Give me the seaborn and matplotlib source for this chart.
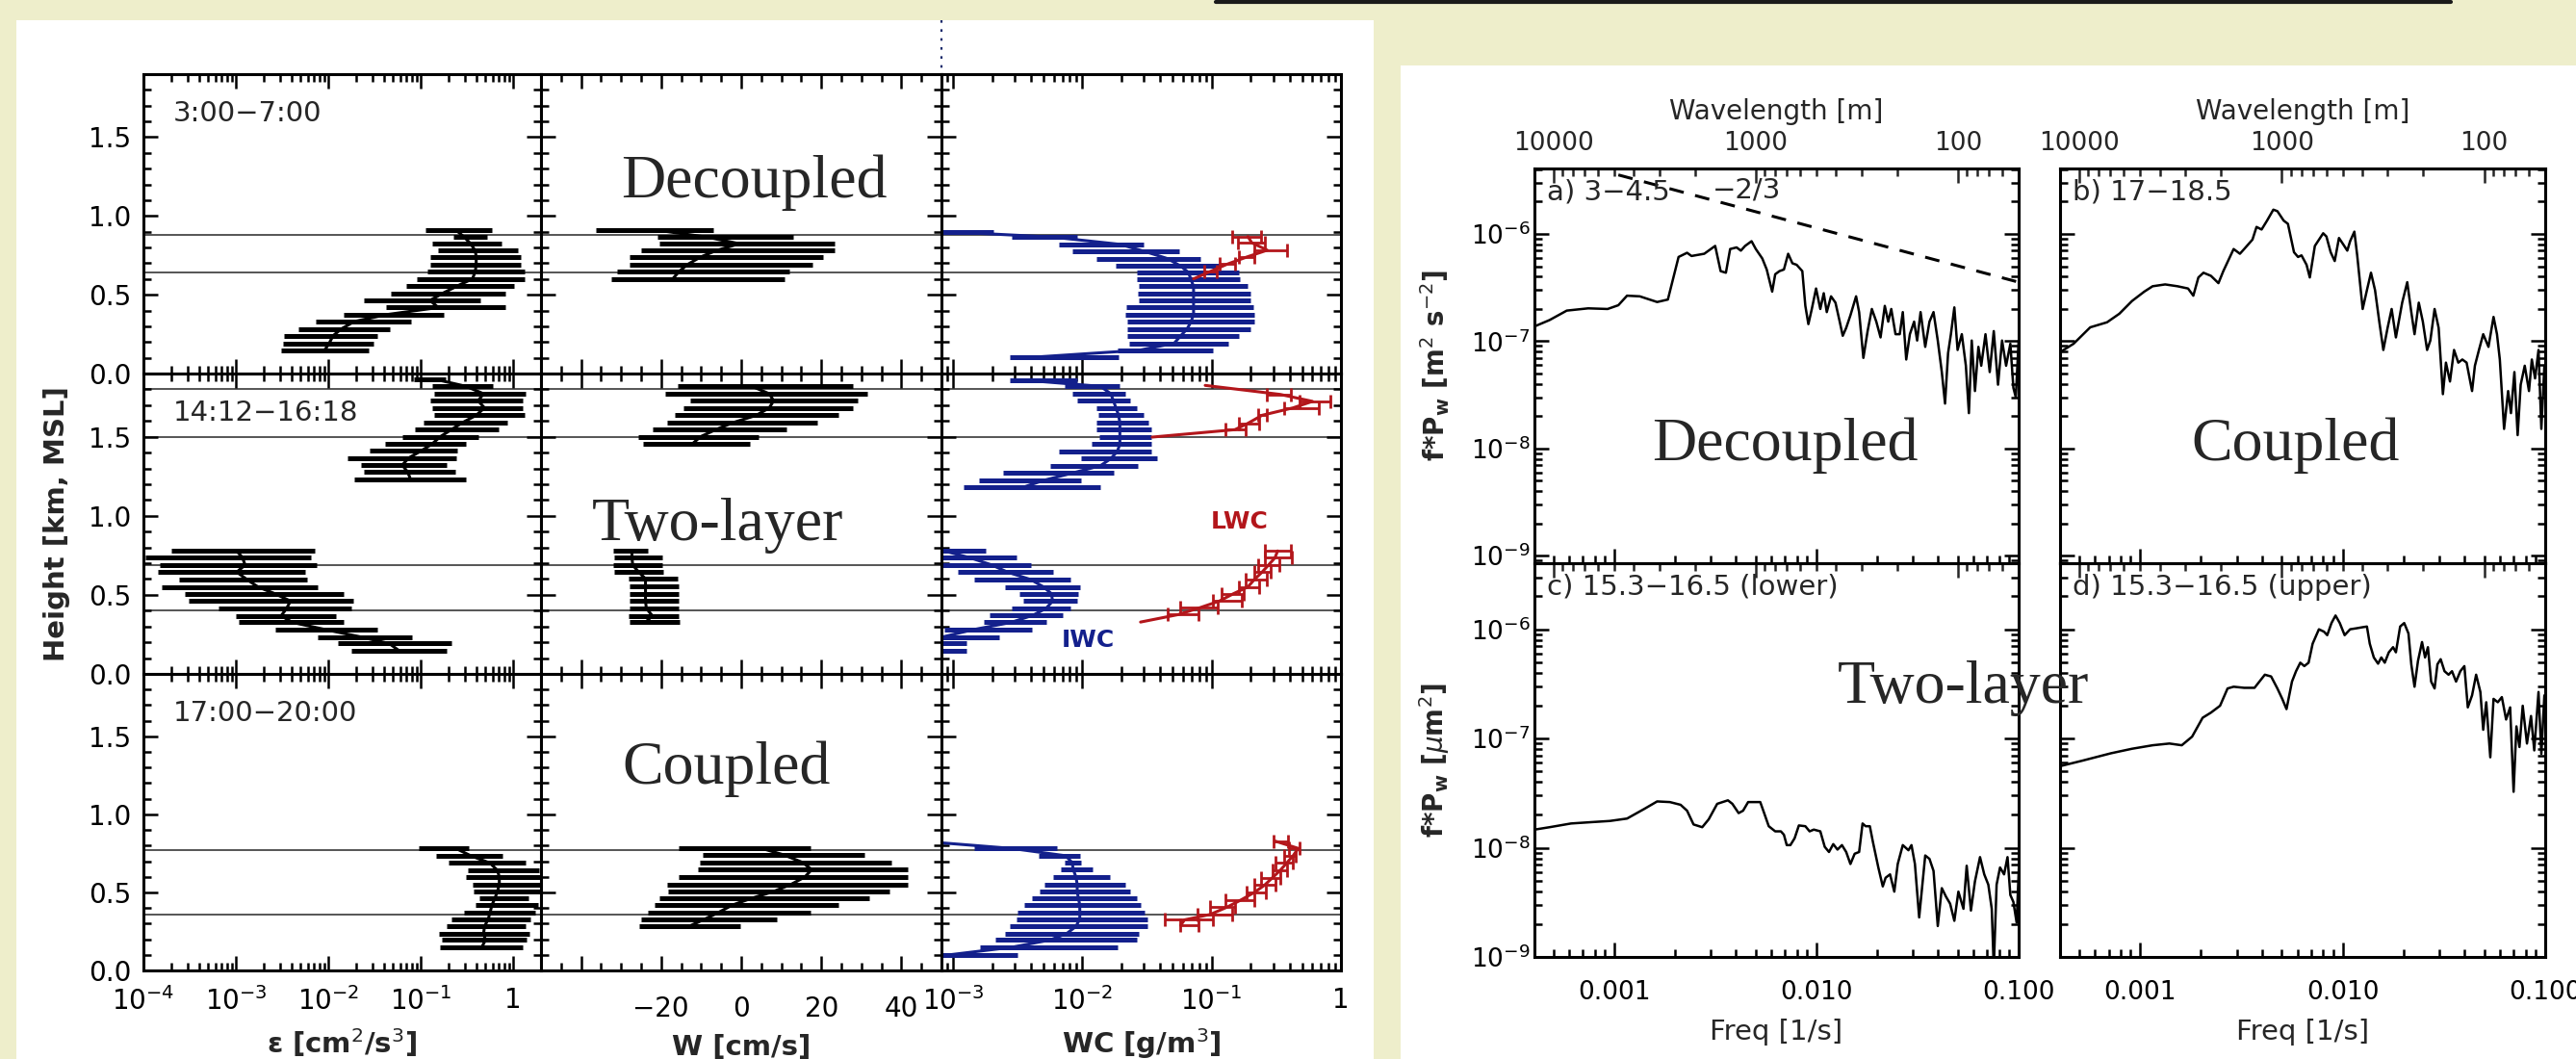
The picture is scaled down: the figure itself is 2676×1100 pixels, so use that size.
import numpy as np
import matplotlib
matplotlib.use("Agg")
import matplotlib.pyplot as plt
import seaborn as sns
from matplotlib.lines import Line2D
from matplotlib.patches import Rectangle
from matplotlib.ticker import FixedLocator, FixedFormatter, MultipleLocator, LogLocator, NullFormatter, FormatStrFormatter

# ---------------------------------------------------------------- data
# layer boundaries (km)
layers_r1 = [0.88, 0.64]
layers_r2 = [1.80, 1.50, 0.69, 0.40]
layers_r3 = [0.77, 0.36]

# dissipation rate, log10(eps) : centre, low, high
eps1_h = [0.911, 0.866, 0.824, 0.779, 0.739, 0.692, 0.648, 0.601, 0.557, 0.510, 0.464, 0.419, 0.374, 0.330, 0.283, 0.239, 0.192, 0.148]
eps1_c = [-0.62, -0.53, -0.46, -0.41, -0.40, -0.40, -0.41, -0.44, -0.60, -0.76, -0.90, -0.81, -1.37, -1.72, -1.86, -1.95, -1.99, -2.04]
eps1_lo = [-0.95, -0.65, -0.88, -0.81, -0.90, -0.90, -0.93, -1.04, -1.16, -1.32, -1.61, -1.38, -1.83, -2.14, -2.32, -2.48, -2.49, -2.51]
eps1_hi = [-0.23, -0.28, -0.13, 0.05, 0.08, 0.08, 0.12, 0.12, 0.01, -0.08, -0.36, -0.08, -0.75, -1.11, -1.33, -1.47, -1.51, -1.56]

eps2u_h = [1.866, 1.819, 1.772, 1.728, 1.683, 1.636, 1.589, 1.545, 1.500, 1.453, 1.413, 1.366, 1.321, 1.276, 1.230]
eps2u_c = [-0.86, -0.51, -0.32, -0.38, -0.31, -0.40, -0.55, -0.67, -0.79, -0.88, -0.99, -1.13, -1.20, -1.14, -1.11]
eps2u_lo = [-1.07, -0.88, -0.86, -0.90, -0.88, -0.86, -0.97, -1.06, -1.20, -1.39, -1.55, -1.79, -1.65, -1.61, -1.72]
eps2u_hi = [-0.73, -0.22, 0.13, 0.10, 0.10, 0.12, -0.06, -0.16, -0.38, -0.51, -0.60, -0.62, -0.72, -0.63, -0.51]

eps2l_h = [0.782, 0.738, 0.689, 0.644, 0.597, 0.550, 0.508, 0.461, 0.415, 0.368, 0.326, 0.279, 0.234, 0.192, 0.145]
eps2l_c = [-3.00, -2.93, -2.90, -2.99, -2.88, -2.76, -2.58, -2.41, -2.45, -2.51, -2.39, -2.02, -1.65, -1.34, -1.23]
eps2l_lo = [-3.70, -3.98, -3.82, -3.84, -3.61, -3.80, -3.55, -3.51, -3.19, -3.00, -2.97, -2.57, -2.12, -1.90, -1.75]
eps2l_hi = [-2.15, -2.19, -2.13, -2.25, -2.23, -2.11, -1.83, -1.73, -1.75, -1.92, -1.83, -1.47, -1.09, -0.67, -0.72]

eps3_h = [0.782, 0.735, 0.688, 0.641, 0.599, 0.552, 0.505, 0.460, 0.418, 0.371, 0.329, 0.282, 0.237, 0.195, 0.148]
eps3_c = [-0.62, -0.46, -0.25, -0.17, -0.15, -0.15, -0.17, -0.20, -0.23, -0.25, -0.27, -0.31, -0.32, -0.30, -0.34]
eps3_lo = [-1.02, -0.83, -0.70, -0.49, -0.51, -0.44, -0.43, -0.37, -0.41, -0.53, -0.67, -0.72, -0.80, -0.77, -0.79]
eps3_hi = [-0.48, -0.12, 0.13, 0.28, 0.32, 0.32, 0.32, 0.17, 0.27, 0.24, 0.19, 0.13, 0.18, 0.15, 0.10]

# vertical velocity W (cm/s)
w1_h = [0.911, 0.866, 0.824, 0.779, 0.739, 0.692, 0.648, 0.601]
w1_c = [-21.4, -8.6, -0.5, -6.4, -10.2, -13.4, -15.5, -17.1]
w1_lo = [-36.4, -20.9, -20.4, -24.9, -27.9, -27.9, -30.9, -32.5]
w1_hi = [-6.9, 12.9, 23.4, 23.4, 20.4, 17.7, 12.0, 10.8]

w2u_h = [1.819, 1.772, 1.728, 1.683, 1.636, 1.589, 1.545, 1.500, 1.453]
w2u_c = [2.7, 7.0, 8.1, 7.0, 3.8, -2.1, -6.4, -10.2, -12.3]
w2u_lo = [-15.8, -19.1, -12.8, -14.5, -16.6, -18.5, -22.0, -25.7, -24.6]
w2u_hi = [27.9, 31.4, 29.2, 27.9, 24.2, 19.1, 11.4, 4.3, 2.2]

w2l_h = [0.782, 0.738, 0.689, 0.644, 0.602, 0.555, 0.508, 0.461, 0.415, 0.368, 0.326]
w2l_c = [-27.3, -27.3, -27.1, -25.6, -23.9, -23.9, -23.9, -23.9, -23.7, -22.2, -23.9]
w2l_lo = [-31.9, -31.7, -31.9, -31.7, -28.2, -27.9, -27.9, -27.9, -27.9, -28.2, -27.9]
w2l_hi = [-23.3, -19.6, -19.6, -19.4, -15.9, -15.7, -15.7, -15.7, -15.7, -15.7, -15.4]

w3_h = [0.786, 0.739, 0.692, 0.646, 0.599, 0.552, 0.505, 0.460, 0.418, 0.371, 0.329, 0.282]
w3_c = [4.6, 10.8, 15.3, 17.6, 15.9, 12.5, 8.0, 2.3, -2.3, -5.7, -9.1, -13.1]
w3_lo = [-15.7, -9.5, -10.3, -10.8, -15.7, -18.5, -18.2, -20.5, -21.6, -23.3, -25.1, -25.4]
w3_hi = [17.3, 30.8, 37.4, 41.6, 41.6, 41.6, 37.0, 31.9, 24.3, 17.4, 8.8, -0.2]

# ice water content, log10(g/m3)
iwc1_h = [0.901, 0.866, 0.820, 0.773, 0.729, 0.682, 0.642, 0.597, 0.553, 0.506, 0.462, 0.419, 0.374, 0.328, 0.283, 0.239, 0.192, 0.148, 0.101]
iwc1_c = [-3.07, -2.23, -1.71, -1.51, -1.34, -1.24, -1.18, -1.16, -1.14, -1.14, -1.14, -1.14, -1.14, -1.16, -1.19, -1.24, -1.29, -1.56, -2.43]
iwc1_lo = [-3.09, -2.55, -2.18, -2.08, -1.89, -1.74, -1.58, -1.58, -1.56, -1.57, -1.56, -1.66, -1.67, -1.65, -1.65, -1.65, -1.64, -1.73, -2.56]
iwc1_hi = [-2.69, -2.04, -1.53, -1.25, -1.09, -0.94, -0.79, -0.78, -0.72, -0.70, -0.70, -0.68, -0.67, -0.67, -0.70, -0.79, -0.87, -0.99, -1.72]

iwc2u_h = [1.860, 1.819, 1.772, 1.728, 1.683, 1.636, 1.589, 1.545, 1.500, 1.453, 1.407, 1.362, 1.317, 1.270, 1.224, 1.183]
iwc2u_c = [-2.48, -1.86, -1.78, -1.76, -1.74, -1.72, -1.71, -1.71, -1.71, -1.71, -1.73, -1.78, -1.86, -2.08, -2.30, -2.45]
iwc2u_lo = [-2.56, -2.14, -2.08, -2.04, -1.89, -1.88, -1.89, -1.89, -1.87, -1.93, -2.18, -2.01, -2.25, -2.61, -2.80, -2.92]
iwc2u_hi = [-2.04, -1.71, -1.67, -1.63, -1.58, -1.53, -1.49, -1.47, -1.47, -1.47, -1.47, -1.42, -1.57, -1.76, -2.01, -1.86]

iwc2l_h = [0.778, 0.735, 0.689, 0.644, 0.597, 0.550, 0.508, 0.461, 0.415, 0.372, 0.326, 0.279, 0.234, 0.192, 0.145]
iwc2l_c = [-3.07, -2.87, -2.70, -2.58, -2.40, -2.30, -2.24, -2.23, -2.28, -2.38, -2.55, -2.85, -3.08, -3.09, -3.09]
iwc2l_lo = [-3.09, -3.09, -3.09, -2.96, -2.84, -2.60, -2.49, -2.46, -2.55, -2.72, -2.76, -3.07, -3.09, -3.09, -3.09]
iwc2l_hi = [-2.75, -2.51, -2.40, -2.23, -2.09, -2.02, -2.03, -2.04, -2.09, -2.15, -2.28, -2.39, -2.64, -2.90, -2.90]

iwc3_h = [0.817, 0.782, 0.735, 0.692, 0.646, 0.599, 0.552, 0.505, 0.460, 0.418, 0.371, 0.329, 0.282, 0.237, 0.195, 0.148, 0.101]
iwc3_c = [-3.08, -2.55, -2.13, -2.08, -2.07, -2.05, -2.04, -2.04, -2.03, -2.02, -2.02, -2.02, -2.05, -2.12, -2.25, -2.55, -3.02]
iwc3_lo = [-3.08, -2.84, -2.34, -2.14, -2.17, -2.23, -2.29, -2.33, -2.39, -2.45, -2.50, -2.51, -2.56, -2.60, -2.67, -2.79, -3.09]
iwc3_hi = [-3.08, -2.20, -2.02, -2.01, -1.92, -1.79, -1.67, -1.63, -1.58, -1.55, -1.52, -1.50, -1.50, -1.56, -1.58, -1.73, -2.50]

# liquid water content, log10(g/m3)
lwc1_h = [0.870, 0.830, 0.783, 0.739, 0.694, 0.648, 0.601]
lwc1_c = [-0.72, -0.69, -0.57, -0.73, -0.88, -1.01, -1.14]
lwc1_lo = [-0.84, -0.80, -0.67, -0.79, -0.94, -1.06, -1.14]
lwc1_hi = [-0.62, -0.59, -0.42, -0.67, -0.82, -0.96, -1.14]

lwc2u_h = [1.825, 1.768, 1.724, 1.683, 1.636, 1.585, 1.545, 1.498]
lwc2u_c = [-1.05, -0.47, -0.22, -0.37, -0.61, -0.72, -0.82, -1.46]
lwc2u_lo = [-1.05, -0.57, -0.32, -0.44, -0.64, -0.79, -0.89, -1.46]
lwc2u_hi = [-1.05, -0.39, -0.08, -0.17, -0.57, -0.63, -0.74, -1.46]

lwc2l_h = [0.778, 0.735, 0.689, 0.644, 0.597, 0.550, 0.508, 0.461, 0.419, 0.375, 0.328]
lwc2l_c = [-0.49, -0.51, -0.56, -0.61, -0.67, -0.72, -0.83, -0.94, -1.09, -1.26, -1.55]
lwc2l_lo = [-0.59, -0.59, -0.64, -0.67, -0.74, -0.79, -0.92, -0.99, -1.24, -1.34, -1.55]
lwc2l_hi = [-0.39, -0.38, -0.48, -0.54, -0.57, -0.63, -0.75, -0.77, -0.95, -1.10, -1.55]

lwc3_h = [0.829, 0.782, 0.735, 0.688, 0.641, 0.594, 0.547, 0.500, 0.453, 0.406, 0.359, 0.324, 0.289]
lwc3_c = [-0.51, -0.33, -0.37, -0.42, -0.47, -0.53, -0.59, -0.67, -0.77, -0.88, -1.01, -1.21, -1.24]
lwc3_lo = [-0.52, -0.40, -0.44, -0.51, -0.53, -0.62, -0.67, -0.73, -0.89, -1.01, -1.11, -1.36, -1.24]
lwc3_hi = [-0.41, -0.32, -0.35, -0.37, -0.42, -0.47, -0.51, -0.58, -0.67, -0.82, -0.84, -0.99, -1.10]

# spectra : log10(freq [1/s]) and log10(f*Pw)
spa_logf = [-3.394, -3.320, -3.235, -3.129, -3.033, -2.980, -2.937, -2.874, -2.788, -2.735,
            -2.682, -2.640, -2.618, -2.555, -2.501, -2.474, -2.448, -2.427, -2.395, -2.374,
            -2.353, -2.321, -2.300, -2.268, -2.246, -2.219, -2.204, -2.183, -2.161, -2.140,
            -2.119, -2.098, -2.070, -2.055, -2.040, -2.023, -2.002, -1.981, -1.964, -1.949,
            -1.928, -1.906, -1.885, -1.870, -1.853, -1.832, -1.804, -1.789, -1.768, -1.747,
            -1.726, -1.704, -1.683, -1.662, -1.645, -1.630, -1.609, -1.588, -1.573, -1.556,
            -1.538, -1.517, -1.502, -1.485,
            -1.462, -1.441, -1.421, -1.400, -1.380, -1.364, -1.349, -1.335, -1.318, -1.302,
            -1.281, -1.261, -1.246, -1.232, -1.216, -1.199, -1.185, -1.164, -1.143, -1.123,
            -1.102, -1.082, -1.062, -1.041, -1.026, -1.014, -1.000]
spa_logp = [-6.862, -6.803, -6.715, -6.694, -6.700, -6.665, -6.576, -6.582, -6.635, -6.612,
            -6.215, -6.176, -6.206, -6.185, -6.112, -6.347, -6.362, -6.141, -6.126, -6.156,
            -6.112, -6.068, -6.141, -6.229, -6.332, -6.538, -6.376, -6.347, -6.332, -6.185,
            -6.274, -6.288, -6.347, -6.671, -6.841, -6.700, -6.509, -6.700, -6.553, -6.729,
            -6.582, -6.641, -6.818, -6.950, -6.876, -6.759, -6.582, -6.729, -7.156, -6.906,
            -6.700, -6.818, -6.965, -6.671, -6.818, -6.700, -6.935, -6.935, -6.729, -7.171,
            -6.935, -6.818, -6.994, -6.729,
            -7.053, -6.818, -6.729, -6.994, -7.288, -7.582, -7.112, -6.935, -6.685, -7.082,
            -6.935, -7.229, -7.671, -6.994, -7.465, -7.053, -7.229, -6.935, -7.288, -6.906,
            -7.406, -6.994, -7.229, -7.024, -7.435, -7.524, -6.994]
spa_dash_logf = [-2.98, -1.00]
spa_dash_logp = [-5.45, -6.45]

spb_logf = [-3.390, -3.328, -3.246, -3.163, -3.102, -3.040, -2.979, -2.938, -2.876, -2.815,
            -2.763, -2.737, -2.712, -2.687, -2.650, -2.613, -2.589, -2.538, -2.507, -2.486,
            -2.445, -2.425, -2.400, -2.373, -2.342, -2.322, -2.291, -2.270, -2.240, -2.220,
            -2.203, -2.178, -2.162, -2.137, -2.096, -2.080, -2.059, -2.039, -2.018, -1.994,
            -1.977, -1.963, -1.942, -1.928, -1.901, -1.880, -1.860, -1.840, -1.819, -1.799,
            -1.778, -1.758, -1.737, -1.706, -1.681, -1.661, -1.645, -1.624, -1.604, -1.583,
            -1.567, -1.546, -1.526, -1.505, -1.490, -1.470, -1.450, -1.429, -1.409, -1.388,
            -1.361, -1.347, -1.327, -1.306, -1.280, -1.255, -1.238, -1.224, -1.203, -1.183,
            -1.169, -1.152, -1.136, -1.121, -1.101, -1.080, -1.066, -1.050, -1.033, -1.019,
            -1.004]
spb_logp = [-7.097, -7.024, -6.871, -6.824, -6.744, -6.626, -6.538, -6.488, -6.471, -6.488,
            -6.509, -6.576, -6.406, -6.362, -6.391, -6.459, -6.347, -6.141, -6.185, -6.141,
            -6.053, -5.935, -5.959, -5.876, -5.774, -5.788, -5.876, -5.906, -6.171, -6.215,
            -6.200, -6.288, -6.406, -6.112, -5.994, -6.024, -6.171, -6.253, -6.038, -6.106,
            -6.156, -6.068, -5.979, -6.200, -6.700, -6.524, -6.362, -6.524, -6.818, -7.082,
            -6.876, -6.700, -6.965, -6.641, -6.450, -6.729, -6.935, -6.641, -6.818, -7.082,
            -6.994, -6.700, -6.876, -7.494, -7.200, -7.376, -7.082, -7.200, -7.171, -7.200,
            -7.465, -7.229, -7.082, -6.935, -7.053, -6.774, -6.935, -7.171, -7.818, -7.465,
            -7.671, -7.288, -7.876, -7.406, -7.229, -7.465, -7.171, -7.347, -7.082, -7.818,
            -7.229]

spc_logf = [-3.394, -3.320, -3.214, -3.107, -3.022, -2.937, -2.852, -2.788, -2.725, -2.672,
            -2.640, -2.608, -2.565, -2.533, -2.491, -2.438, -2.416, -2.385, -2.363, -2.338,
            -2.278, -2.257, -2.236, -2.204, -2.176, -2.161, -2.147, -2.129, -2.108, -2.087,
            -2.055, -2.034, -2.013, -1.981, -1.959, -1.938, -1.917, -1.896, -1.874, -1.853,
            -1.832, -1.811, -1.789, -1.772, -1.757, -1.736, -1.721, -1.694, -1.672, -1.658,
            -1.636, -1.615, -1.598, -1.573, -1.545, -1.530, -1.513, -1.492,
            -1.462, -1.441, -1.421, -1.400, -1.380, -1.359, -1.339, -1.318, -1.298, -1.273,
            -1.257, -1.236, -1.216, -1.191, -1.170, -1.150, -1.133, -1.123, -1.109, -1.092,
            -1.072, -1.055, -1.041, -1.026, -1.010, -0.998]
spc_logp = [-7.834, -7.812, -7.778, -7.765, -7.755, -7.733, -7.645, -7.576, -7.582, -7.607,
            -7.661, -7.787, -7.812, -7.740, -7.598, -7.566, -7.598, -7.683, -7.661, -7.582,
            -7.582, -7.692, -7.803, -7.850, -7.850, -7.881, -7.976, -7.976, -7.913, -7.796,
            -7.803, -7.850, -7.834, -7.850, -7.992, -8.039, -7.967, -8.017, -7.976, -8.039,
            -8.149, -8.055, -8.039, -7.778, -7.803, -7.803, -7.945, -8.181, -8.354, -8.275,
            -8.244, -8.402, -8.149, -7.976, -8.023, -7.976, -8.149, -8.638,
            -8.071, -8.102, -8.212, -8.717, -8.370, -8.449, -8.512, -8.669, -8.402, -8.559,
            -8.165, -8.575, -8.307, -8.086, -8.244, -8.338, -8.559, -9.100, -8.338, -8.181,
            -8.244, -8.086, -8.433, -8.496, -8.685, -8.149]

spd_logf = [-3.390, -3.287, -3.143, -3.040, -2.938, -2.855, -2.794, -2.743, -2.691, -2.650,
            -2.605, -2.568, -2.538, -2.486, -2.435, -2.384, -2.353, -2.322, -2.298, -2.277,
            -2.250, -2.230, -2.209, -2.189, -2.168, -2.148, -2.117, -2.092, -2.076, -2.055,
            -2.035, -2.014, -1.990, -1.963, -1.932, -1.901, -1.880, -1.866, -1.846, -1.825,
            -1.809, -1.792, -1.772, -1.751, -1.737, -1.716, -1.696, -1.675, -1.661, -1.645,
            -1.628, -1.608, -1.593, -1.579, -1.563, -1.546, -1.532, -1.516, -1.497, -1.477,
            -1.460, -1.440, -1.419, -1.399, -1.382, -1.361, -1.341, -1.320, -1.306, -1.291,
            -1.271, -1.255, -1.234, -1.214, -1.193, -1.173, -1.156, -1.142, -1.127, -1.111,
            -1.090, -1.070, -1.054, -1.033, -1.019, -1.004]
spd_logp = [-7.251, -7.204, -7.135, -7.094, -7.062, -7.046, -7.062, -6.983, -6.810, -6.763,
            -6.700, -6.542, -6.526, -6.536, -6.536, -6.416, -6.432, -6.542, -6.637, -6.731,
            -6.479, -6.384, -6.306, -6.337, -6.306, -6.132, -6.000, -6.022, -6.054, -5.943,
            -5.874, -5.943, -6.054, -6.000, -5.991, -5.981, -5.975, -6.132, -6.258, -6.315,
            -6.258, -6.306, -6.211, -6.164, -6.211, -5.975, -5.943, -6.038, -6.321, -6.526,
            -6.290, -6.117, -6.258, -6.164, -6.479, -6.542, -6.321, -6.274, -6.384, -6.416,
            -6.384, -6.479, -6.384, -6.337, -6.715, -6.605, -6.416, -6.574, -6.920, -6.668,
            -7.172, -6.637, -6.668, -6.621, -6.826, -6.715, -7.488, -6.889, -7.078, -6.700,
            -7.046, -6.794, -7.109, -6.574, -7.141, -6.605]

row_times = ["3:00\u22127:00", "14:12\u221216:18", "17:00\u221220:00"]
regimes = ["Decoupled", "Two-layer", "Coupled"]
eps_ticks = [1e-4, 1e-3, 1e-2, 1e-1, 1.0]
eps_ticklabels = ["10$^{-4}$", "10$^{-3}$", "10$^{-2}$", "10$^{-1}$", "1"]
w_ticks = [-40, -20, 0, 20, 40]
w_ticklabels = ["", "\u221220", "0", "20", "40"]
wc_ticks = [1e-3, 1e-2, 1e-1, 1.0]
wc_ticklabels = ["10$^{-3}$", "10$^{-2}$", "10$^{-1}$", "1"]
f_ticks = [1e-3, 1e-2, 1e-1]
f_ticklabels = ["0.001", "0.010", "0.100"]
p_ticks = [1e-9, 1e-8, 1e-7, 1e-6]
p_ticklabels = ["10$^{-9}$", "10$^{-8}$", "10$^{-7}$", "10$^{-6}$"]
wl_ticks = [10000, 1000, 100]
wl_ticklabels = ["10000", "1000", "100"]
panel_titles = ["a) 3\u22124.5", "b) 17\u221218.5", "c) 15.3\u221216.5 (lower)", "d) 15.3\u221216.5 (upper)"]
advect_speed = 5.0  # m/s, wavelength = U / f

# ---------------------------------------------------------------- style
sns.set_style("ticks")
plt.rcParams["font.family"] = ["DejaVu Sans"]
plt.rcParams["mathtext.fontset"] = "dejavusans"
SERIF = ["Liberation Serif", "DejaVu Serif"]
NAVY = "#13208c"
RED = "#b3161b"
BG = "#eeeecb"

W, H = 2676, 1100
fig = plt.figure(figsize=(W / 100, H / 100), dpi=100, facecolor=BG)


def fx(x):
    return x / W


def fy(y):
    return 1 - y / H


def rect(x0, y0, x1, y1):
    return [x0 / W, 1 - y1 / H, (x1 - x0) / W, (y1 - y0) / H]


fig.add_artist(Rectangle((fx(17), 0), (1427 - 17) / W, fy(21), transform=fig.transFigure,
                         facecolor="white", edgecolor="none", zorder=-10))
fig.add_artist(Rectangle((fx(1455), 0), (W - 1455) / W, fy(68), transform=fig.transFigure,
                         facecolor="white", edgecolor="none", zorder=-10))
fig.add_artist(Line2D([fx(1263), fx(2546)], [fy(1.5), fy(1.5)], transform=fig.transFigure,
                      color="#1a1a1a", lw=3))
fig.add_artist(Line2D([fx(978), fx(978)], [fy(21), fy(77)], transform=fig.transFigure,
                      color="#1a2a6c", lw=1.6, ls=(0, (1.2, 3))))


def style(ax, pad=8, lsize=20):
    for s in ax.spines.values():
        s.set_linewidth(2.2)
        s.set_color("black")
    ax.tick_params(which="both", direction="in", top=True, right=True, width=1.8,
                   colors="black", labelsize=lsize, pad=pad)
    ax.tick_params(which="major", length=11)
    ax.tick_params(which="minor", length=5.5)
    ax.set_facecolor("white")


def draw_profile(ax, h, c, lo, hi, color, log=True, bar_lw=3.6, line_lw=2.2, caps=0):
    h = np.asarray(h, float)
    conv = (lambda a: 10.0 ** np.asarray(a, float)) if log else (lambda a: np.asarray(a, float))
    cv, lv, hv = conv(c), conv(lo), conv(hi)
    m = hv > lv
    if caps:
        ax.errorbar(cv[m], h[m], xerr=[np.clip(cv[m] - lv[m], 0, None), np.clip(hv[m] - cv[m], 0, None)],
                    fmt="none", ecolor=color, elinewidth=bar_lw, capsize=caps, capthick=bar_lw)
    else:
        ax.hlines(h[m], lv[m], hv[m], colors=color, lw=bar_lw)
    sns.lineplot(x=cv, y=h, ax=ax, color=color, lw=line_lw, sort=False, estimator=None)


# ---------------------------------------------------------------- left grid
cols = [(149, 562), (562, 978), (978, 1393)]
rows = [(77, 388), (388, 700), (700, 1008)]
layers = [layers_r1, layers_r2, layers_r3]
eps_sets = [[(eps1_h, eps1_c, eps1_lo, eps1_hi)],
            [(eps2u_h, eps2u_c, eps2u_lo, eps2u_hi), (eps2l_h, eps2l_c, eps2l_lo, eps2l_hi)],
            [(eps3_h, eps3_c, eps3_lo, eps3_hi)]]
w_sets = [[(w1_h, w1_c, w1_lo, w1_hi)],
          [(w2u_h, w2u_c, w2u_lo, w2u_hi), (w2l_h, w2l_c, w2l_lo, w2l_hi)],
          [(w3_h, w3_c, w3_lo, w3_hi)]]
iwc_sets = [[(iwc1_h, iwc1_c, iwc1_lo, iwc1_hi)],
            [(iwc2u_h, iwc2u_c, iwc2u_lo, iwc2u_hi), (iwc2l_h, iwc2l_c, iwc2l_lo, iwc2l_hi)],
            [(iwc3_h, iwc3_c, iwc3_lo, iwc3_hi)]]
lwc_sets = [[(lwc1_h, lwc1_c, lwc1_lo, lwc1_hi)],
            [(lwc2u_h, lwc2u_c, lwc2u_lo, lwc2u_hi), (lwc2l_h, lwc2l_c, lwc2l_lo, lwc2l_hi)],
            [(lwc3_h, lwc3_c, lwc3_lo, lwc3_hi)]]

for r, (y0, y1) in enumerate(rows):
    last = r == 2
    for c, (x0, x1) in enumerate(cols):
        ax = fig.add_axes(rect(x0, y0, x1, y1))
        style(ax)
        if c == 0:
            ax.set_xscale("log")
            ax.set_xlim(1e-4, 2.0)
            ax.xaxis.set_major_locator(FixedLocator(eps_ticks))
            ax.xaxis.set_major_formatter(FixedFormatter(eps_ticklabels))
            ax.xaxis.set_minor_locator(LogLocator(base=10, subs=np.arange(2, 10), numticks=20))
            ax.xaxis.set_minor_formatter(NullFormatter())
            for prof in eps_sets[r]:
                draw_profile(ax, *prof, color="black", log=True)
        elif c == 1:
            ax.set_xlim(-50, 50)
            ax.xaxis.set_major_locator(FixedLocator(w_ticks))
            ax.xaxis.set_major_formatter(FixedFormatter(w_ticklabels))
            ax.xaxis.set_minor_locator(MultipleLocator(5))
            for prof in w_sets[r]:
                draw_profile(ax, *prof, color="black", log=False)
        else:
            ax.set_xscale("log")
            ax.set_xlim(10 ** -3.09, 1.0)
            ax.xaxis.set_major_locator(FixedLocator(wc_ticks))
            ax.xaxis.set_major_formatter(FixedFormatter(wc_ticklabels))
            ax.xaxis.set_minor_locator(LogLocator(base=10, subs=np.arange(2, 10), numticks=20))
            ax.xaxis.set_minor_formatter(NullFormatter())
            for prof in iwc_sets[r]:
                draw_profile(ax, *prof, color=NAVY, log=True)
            for prof in lwc_sets[r]:
                draw_profile(ax, *prof, color=RED, log=True, bar_lw=2.0, line_lw=2.2, caps=5)
        for v in layers[r]:
            ax.axhline(v, color="#555555", lw=1.4, zorder=0.5)
        ax.set_ylim(0, 1.9)
        ax.yaxis.set_major_locator(MultipleLocator(0.5))
        ax.yaxis.set_minor_locator(MultipleLocator(0.1))
        ax.yaxis.set_major_formatter(FormatStrFormatter("%.1f"))
        ax.tick_params(axis="y", labelleft=(c == 0), pad=9)
        ax.tick_params(axis="x", labelbottom=last, pad=(19 if c == 1 else 12))
        ax.set_xlabel("")
        ax.set_ylabel("")
        if c == 0:
            ax.text(0.075, 0.868, row_times[r], transform=ax.transAxes, fontsize=21,
                    ha="left", va="center")
            if r == 1:
                ax.set_ylabel("Height [km, MSL]", fontsize=21, fontweight="bold", labelpad=14)
        if last:
            lab = ["\u03b5 [cm$^2$/s$^3$]", "W [cm/s]", "WC [g/m$^3$]"][c]
            ax.set_xlabel(lab, fontsize=21, fontweight="bold", labelpad=8)

# left-side annotations
fig.text(fx(783), fy(190), regimes[0], family=SERIF, fontsize=46, ha="center", va="center")
fig.text(fx(745), fy(546), regimes[1], family=SERIF, fontsize=46, ha="center", va="center")
fig.text(fx(755), fy(799), regimes[2], family=SERIF, fontsize=46, ha="center", va="center")
fig.text(fx(1288), fy(542), "LWC", color=RED, fontsize=18, fontweight="bold", ha="center", va="center")
fig.text(fx(1130), fy(665), "IWC", color=NAVY, fontsize=18, fontweight="bold", ha="center", va="center")

# ---------------------------------------------------------------- spectra
scols = [(1594, 2097), (2140, 2644)]
srows = [(175, 585), (585, 994)]
spectra = [[(spa_logf, spa_logp), (spb_logf, spb_logp)],
           [(spc_logf, spc_logp), (spd_logf, spd_logp)]]
ylims = [(10 ** -9.07, 10 ** -5.39), (10 ** -9.0, 10 ** -5.395)]
ylabels = ["f*P$_\\mathbf{w}$ [m$^2$ s$^{-2}$]", "f*P$_\\mathbf{w}$ [$\\mu$m$^2$]"]


def fwd(f):
    return advect_speed / np.clip(f, 1e-12, None)


def inv(w):
    return advect_speed / np.clip(w, 1e-12, None)


k = 0
for r, (y0, y1) in enumerate(srows):
    for c, (x0, x1) in enumerate(scols):
        ax = fig.add_axes(rect(x0, y0, x1, y1))
        style(ax, pad=3, lsize=19)
        ax.set_xscale("log")
        ax.set_yscale("log")
        ax.set_xlim(10 ** -3.395, 0.1)
        ax.set_ylim(*ylims[r])
        lf, lp = spectra[r][c]
        sns.lineplot(x=10.0 ** np.asarray(lf), y=10.0 ** np.asarray(lp), ax=ax, color="black",
                     lw=1.8, sort=False, estimator=None)
        if r == 0 and c == 0:
            ax.plot(10.0 ** np.asarray(spa_dash_logf), 10.0 ** np.asarray(spa_dash_logp),
                    color="black", lw=2.2, ls=(0, (5, 4)))
        ax.xaxis.set_major_locator(FixedLocator(f_ticks))
        ax.xaxis.set_major_formatter(FixedFormatter(f_ticklabels))
        ax.xaxis.set_minor_locator(LogLocator(base=10, subs=np.arange(2, 10), numticks=20))
        ax.xaxis.set_minor_formatter(NullFormatter())
        ax.yaxis.set_major_locator(FixedLocator(p_ticks))
        ax.yaxis.set_major_formatter(FixedFormatter(p_ticklabels))
        ax.yaxis.set_minor_locator(LogLocator(base=10, subs=np.arange(2, 10), numticks=20))
        ax.yaxis.set_minor_formatter(NullFormatter())
        ax.tick_params(axis="x", which="both", top=False, labelbottom=(r == 1), pad=17)
        ax.tick_params(axis="y", labelleft=(c == 0), pad=3)
        ax.set_xlabel("")
        ax.set_ylabel("")
        sec = ax.secondary_xaxis("top", functions=(fwd, inv))
        sec.xaxis.set_major_locator(FixedLocator(wl_ticks))
        sec.xaxis.set_major_formatter(FixedFormatter(wl_ticklabels))
        sec.xaxis.set_minor_locator(LogLocator(base=10, subs=np.arange(2, 10), numticks=20))
        sec.xaxis.set_minor_formatter(NullFormatter())
        sec.tick_params(which="both", direction="in", width=1.8, labelsize=19, pad=9,
                        labeltop=(r == 0))
        sec.tick_params(which="major", length=11)
        sec.tick_params(which="minor", length=5.5)
        sec.spines["top"].set_linewidth(2.2)
        if r == 0:
            sec.set_xlabel("Wavelength [m]", fontsize=20, labelpad=9)
        if r == 1:
            ax.set_xlabel("Freq [1/s]", fontsize=21, labelpad=10)
        if c == 0:
            ax.set_ylabel(ylabels[r], fontsize=20, fontweight="bold", labelpad=14)
        ax.text(0.025, 0.94, panel_titles[k], transform=ax.transAxes, fontsize=21,
                ha="left", va="center")
        k += 1

fig.text(fx(1815), fy(198), "\u22122/3", fontsize=21, ha="center", va="center")
fig.text(fx(1854), fy(463), regimes[0], family=SERIF, fontsize=46, ha="center", va="center")
fig.text(fx(2385), fy(463), regimes[2], family=SERIF, fontsize=46, ha="center", va="center")
fig.text(fx(2040), fy(715), regimes[1], family=SERIF, fontsize=46, ha="center", va="center")

fig.savefig("out.png", dpi=100, facecolor=BG)
